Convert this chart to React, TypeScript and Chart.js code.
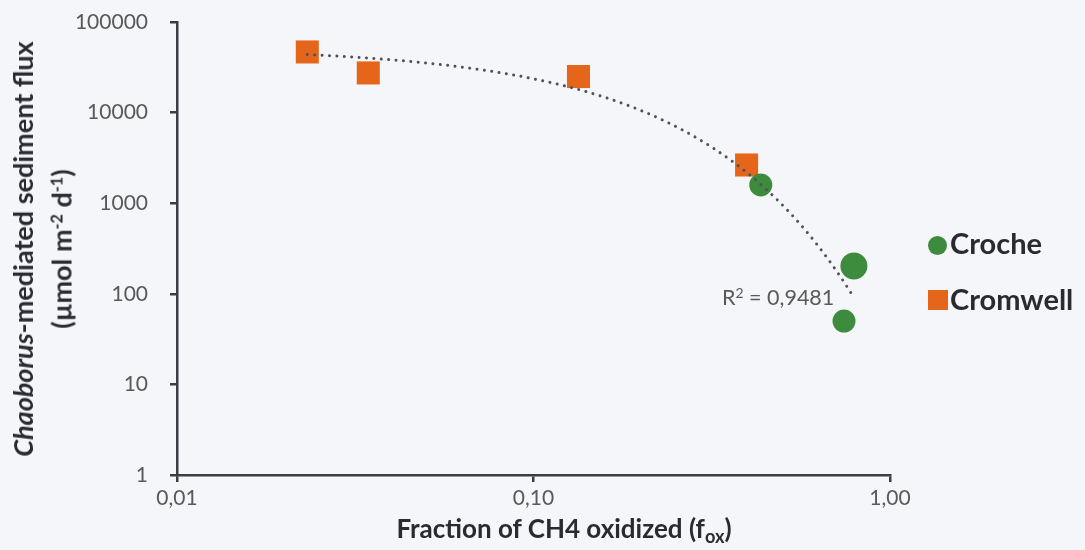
import React, { useEffect, useRef } from "react";
import { Chart, registerables } from "chart.js";

Chart.register(...registerables);

// Croche lake samples: fraction of CH4 oxidized vs Chaoborus-mediated flux
const crocheFox = [0.434, 0.792, 0.743];
const crocheFlux = [1590, 203, 50];
const crocheRadius = [11.5, 13.5, 11.5];

// Cromwell lake samples
const cromwellFox = [0.0232, 0.0344, 0.1337, 0.396];
const cromwellFlux = [46700, 27400, 25000, 2640];

// Axis ticks and their printed labels (decimal comma)
const xTicks = [0.01, 0.1, 1];
const xTickLabels = ["0,01", "0,10", "1,00"];
const yTicks = [1, 10, 100, 1000, 10000, 100000];
const yTickLabels = ["1", "10", "100", "1000", "10000", "100000"];

const seriesNames = ["Croche", "Cromwell"];
const rSquaredText = "0,9481";

const GREEN = "#3d8b3d";
const ORANGE = "#e5661b";
const AXIS = "#3c3c44";
const TICK_TEXT = "#595959";
const TITLE_TEXT = "#2a2a32";
const BG = "#f5f6fa";

// Least-squares exponential trend (y = a * e^(b x)) over both lakes
function exponentialFit(xs: number[], ys: number[]) {
  const n = xs.length;
  const ly = ys.map((v) => Math.log(v));
  const mx = xs.reduce((s, v) => s + v, 0) / n;
  const my = ly.reduce((s, v) => s + v, 0) / n;
  let sxy = 0;
  let sxx = 0;
  for (let i = 0; i < n; i++) {
    sxy += (xs[i] - mx) * (ly[i] - my);
    sxx += (xs[i] - mx) * (xs[i] - mx);
  }
  const b = sxy / sxx;
  const a = Math.exp(my - b * mx);
  return { a, b };
}

function trendPoints() {
  const xs = [...crocheFox, ...cromwellFox];
  const ys = [...crocheFlux, ...cromwellFlux];
  const { a, b } = exponentialFit(xs, ys);
  const lo = Math.log10(Math.min(...xs));
  const hi = Math.log10(Math.max(...xs));
  const pts: { x: number; y: number }[] = [];
  const steps = 120;
  for (let i = 0; i <= steps; i++) {
    const x = Math.pow(10, lo + ((hi - lo) * i) / steps);
    pts.push({ x, y: a * Math.exp(b * x) });
  }
  return pts;
}

export default function App() {
  const canvasRef = useRef<HTMLCanvasElement | null>(null);

  useEffect(() => {
    const canvas = canvasRef.current;
    if (!canvas) return;
    const tickFont = { family: "Lato", size: 21 };

    const chart = new Chart(canvas, {
      type: "scatter",
      data: {
        datasets: [
          {
            type: "line",
            label: "trend",
            data: trendPoints(),
            borderColor: "#50505c",
            borderWidth: 3,
            borderDash: [0.01, 7.4],
            borderCapStyle: "round",
            pointRadius: 0,
            fill: false,
            tension: 0,
            order: 0,
          },
          {
            label: seriesNames[0],
            data: crocheFox.map((x, i) => ({ x, y: crocheFlux[i] })),
            backgroundColor: GREEN,
            borderColor: GREEN,
            borderWidth: 0,
            pointStyle: "circle",
            pointRadius: crocheRadius,
            order: 1,
          },
          {
            label: seriesNames[1],
            data: cromwellFox.map((x, i) => ({ x, y: cromwellFlux[i] })),
            backgroundColor: ORANGE,
            borderColor: ORANGE,
            borderWidth: 0,
            pointStyle: "rect",
            pointRadius: 16.3,
            order: 2,
          },
        ],
      },
      options: {
        responsive: false,
        animation: false,
        layout: { padding: { top: 22, right: 195, bottom: 0, left: 0 } },
        plugins: {
          legend: { display: false },
          tooltip: { enabled: false },
          title: { display: false },
        },
        scales: {
          x: {
            type: "logarithmic",
            position: "bottom",
            min: 0.01,
            max: 1,
            afterBuildTicks: (s: any) => {
              s.ticks = xTicks.map((v) => ({ value: v }));
            },
            afterFit: (s: any) => {
              s.height = 75;
              s.paddingLeft = 0;
              s.paddingRight = 0;
            },
            ticks: {
              autoSkip: false,
              maxRotation: 0,
              color: TICK_TEXT,
              font: tickFont,
              padding: 4,
              callback: (_v: any, i: number) => xTickLabels[i],
            },
            grid: {
              display: true,
              drawOnChartArea: false,
              drawTicks: true,
              tickLength: 7,
              color: AXIS,
              lineWidth: 2.5,
            },
            border: { display: true, color: AXIS, width: 2.5 },
          },
          y: {
            type: "logarithmic",
            position: "left",
            min: 1,
            max: 100000,
            afterBuildTicks: (s: any) => {
              s.ticks = yTicks.map((v) => ({ value: v }));
            },
            afterFit: (s: any) => {
              s.width = 177;
              s.paddingTop = 0;
              s.paddingBottom = 0;
            },
            ticks: {
              autoSkip: false,
              color: TICK_TEXT,
              font: tickFont,
              padding: 22,
              callback: (_v: any, i: number) => yTickLabels[i],
            },
            grid: {
              display: true,
              drawOnChartArea: false,
              drawTicks: true,
              tickLength: 7,
              color: AXIS,
              lineWidth: 2.5,
            },
            border: { display: true, color: AXIS, width: 2.5 },
          },
        },
      },
    } as any);

    return () => chart.destroy();
  }, []);

  const yTitleLine: React.CSSProperties = {
    position: "absolute",
    top: 249,
    transform: "translate(-50%, -50%) rotate(-90deg)",
    whiteSpace: "nowrap",
    fontFamily: "Lato",
    fontWeight: 700,
    fontSize: 27,
    lineHeight: "32px",
    color: TITLE_TEXT,
  };
  const sup: React.CSSProperties = { fontSize: "0.6em", verticalAlign: "0.55em" };

  return (
    <div
      style={{
        position: "fixed",
        left: 0,
        top: 0,
        width: 1085,
        height: 550,
        background: BG,
        overflow: "hidden",
      }}
    >
      <canvas ref={canvasRef} width={1085} height={550} style={{ width: 1085, height: 550, display: "block" }} />

      {/* y-axis title, two rotated lines */}
      <div style={{ ...yTitleLine, left: 23 }}>
        <i>Chaoborus</i>-mediated sediment flux
      </div>
      <div style={{ ...yTitleLine, left: 59 }}>
        (µmol m<span style={sup}>-2</span> d<span style={sup}>-1</span>)
      </div>

      {/* x-axis title */}
      <div
        style={{
          position: "absolute",
          left: 564,
          top: 513,
          transform: "translateX(-50%)",
          whiteSpace: "nowrap",
          fontFamily: "Lato",
          fontWeight: 700,
          fontSize: 26,
          lineHeight: "30px",
          color: TITLE_TEXT,
        }}
      >
        Fraction of CH4 oxidized (f
        <span style={{ fontSize: "0.7em", verticalAlign: "-0.3em" }}>ox</span>)
      </div>

      {/* trend fit label */}
      <div
        style={{
          position: "absolute",
          left: 722,
          top: 279,
          whiteSpace: "nowrap",
          fontFamily: "Lato",
          fontSize: 21.5,
          lineHeight: "28px",
          color: TICK_TEXT,
        }}
      >
        R<span style={{ fontSize: "0.65em", verticalAlign: "0.5em" }}>2</span> = {rSquaredText}
      </div>

      {/* legend */}
      <div style={{ position: "absolute", left: 928, top: 236, width: 19, height: 19, borderRadius: "50%", background: GREEN }} />
      <div
        style={{
          position: "absolute",
          left: 950,
          top: 226,
          fontFamily: "Lato",
          fontWeight: 700,
          fontSize: 29,
          lineHeight: "34px",
          color: TITLE_TEXT,
          whiteSpace: "nowrap",
        }}
      >
        {seriesNames[0]}
      </div>
      <div style={{ position: "absolute", left: 928, top: 290, width: 20, height: 20, background: ORANGE }} />
      <div
        style={{
          position: "absolute",
          left: 950,
          top: 282,
          fontFamily: "Lato",
          fontWeight: 700,
          fontSize: 29,
          lineHeight: "34px",
          color: TITLE_TEXT,
          whiteSpace: "nowrap",
        }}
      >
        {seriesNames[1]}
      </div>
    </div>
  );
}
